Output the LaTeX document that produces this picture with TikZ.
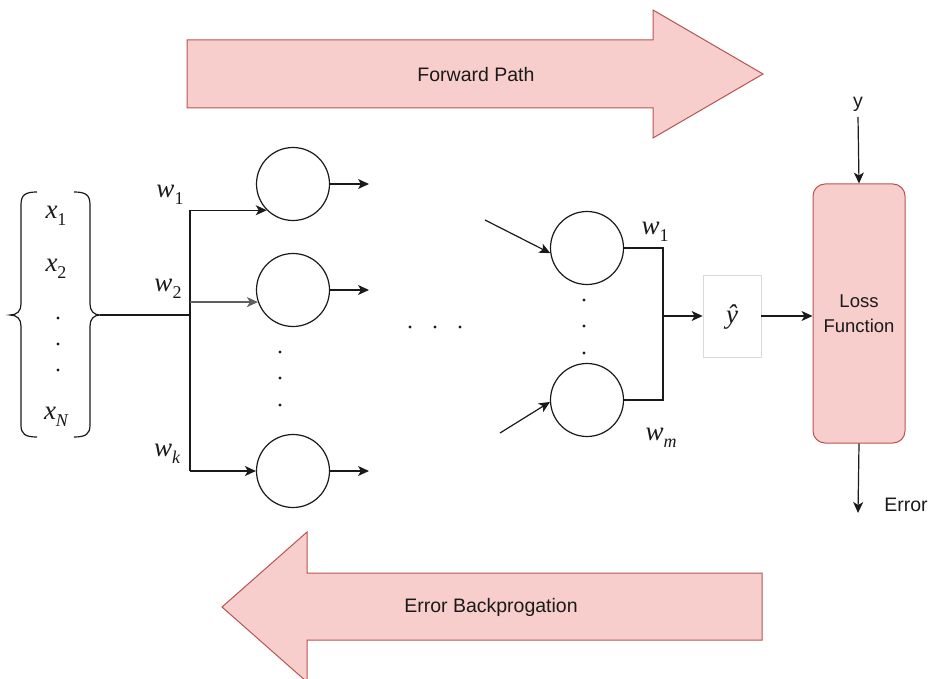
\documentclass[tikz,border=0pt]{standalone}
\usepackage{fontspec}
\setmainfont{Liberation Sans}
\newfontfamily\mathserif{Liberation Serif}
\usetikzlibrary{arrows.meta,calc}

\definecolor{pinkfill}{HTML}{F8CECC}
\definecolor{pinkline}{HTML}{B85450}
\definecolor{boxgray}{HTML}{D9D9D9}
\definecolor{ink}{HTML}{1A1A1A}

% italic serif variable with a lowered subscript
\newcommand{\sv}[2]{{\mathserif\fontsize{27}{27}\selectfont\itshape #1\raisebox{-0.28em}{\fontsize{18}{18}\selectfont\upshape #2}}}

\tikzset{
  wire/.style={line width=1.2pt, draw=ink},
  conn/.style={wire, -{Stealth[length=11pt,width=10pt,inset=3pt]}},
  neuron/.style={circle, draw=ink, line width=1.2pt, minimum size=73pt, inner sep=0pt},
  bigarrow/.style={fill=pinkfill, draw=pinkline, line width=1pt, line join=miter},
  sanslabel/.style={font=\fontsize{19.5}{24}\selectfont, text=ink, inner sep=0pt},
  varlabel/.style={text=ink, inner sep=0pt},
  dot/.style={circle, fill=ink, inner sep=0pt, minimum size=3.4pt},
}

\begin{document}
\begin{tikzpicture}[x=1pt, y=-1pt]
\useasboundingbox (0,0) rectangle (928,679);

% forward path arrow
\draw[bigarrow] (187,40) -- (653,40) -- (653,10) -- (763,74) -- (653,138)
  -- (653,108) -- (187,108) -- cycle;
\node[sanslabel] (fwd) at (476,75) {Forward Path};

% error backpropagation arrow
\draw[bigarrow] (762,573) -- (307,573) -- (307,532) -- (222,607) -- (307,682)
  -- (307,640) -- (762,640) -- cycle;
\node[sanslabel] (bwd) at (491,607) {Error Backprogation};

% input vector with braces
\draw[wire] (37,192) .. controls (25,192) and (21,195) .. (21,205) -- (21,304)
  .. controls (21,311) and (17,315) .. (10,315)
  .. controls (17,315) and (21,319) .. (21,326) -- (21,425)
  .. controls (21,434) and (25,437) .. (37,437);
\draw[wire] (74,192) .. controls (86,192) and (90,195) .. (90,205) -- (90,304)
  .. controls (90,311) and (94,315) .. (100,315)
  .. controls (94,315) and (90,319) .. (90,326) -- (90,425)
  .. controls (90,434) and (86,437) .. (74,437);
\coordinate (rb) at (100,315);
\node[varlabel] (x1) at (56,216) {\sv{x}{1}};
\node[varlabel] (x2) at (56,269) {\sv{x}{2}};
\node[dot] (xd1) at (58,318) {};
\node[dot] (xd2) at (58,344) {};
\node[dot] (xd3) at (58,370) {};
\node[varlabel] (xN) at (56,417) {\sv{x}{\itshape N}};

% first hidden layer
\node[neuron] (c1) at (293,184) {};
\node[neuron] (c2) at (293,290) {};
\node[neuron] (c3) at (293,471) {};
\node[dot] (cd1) at (280,352) {};
\node[dot] (cd2) at (280,378) {};
\node[dot] (cd3) at (280,405) {};

% trunk and weighted branches
\coordinate (tr) at (190,315);
\draw[wire] (rb) -- (tr);
\draw[wire] (c1.225 -| tr) -- (c3.west -| tr);
\draw[conn] (c1.225 -| tr) -- (c1.225);
\draw[conn, draw=ink!70] (c2.199 -| tr) -- (c2.199);
\draw[conn] (c3.west -| tr) -- (c3.west);
\node[varlabel] (w1) at (170,195) {\sv{w}{1}};
\node[varlabel] (w2) at (168,289) {\sv{w}{2}};
\node[varlabel] (wk) at (167,454) {\sv{w}{\itshape k}};

% outputs of the first layer
\coordinate (o1) at (369,184);
\coordinate (o2) at (369,290);
\coordinate (o3) at (369,471);
\draw[conn] (c1.east) -- (o1);
\draw[conn] (c2.east) -- (o2);
\draw[conn] (c3.east) -- (o3);

% ellipsis between layers
\node[dot] (md1) at (410,327) {};
\node[dot] (md2) at (435,327) {};
\node[dot] (md3) at (460,327) {};

% last layer
\node[neuron] (cA) at (587,248) {};
\node[neuron] (cB) at (587,400) {};
\node[dot] (rd1) at (584,300) {};
\node[dot] (rd2) at (584,326) {};
\node[dot] (rd3) at (584,353) {};
\coordinate (iA) at (485,220);
\coordinate (iB) at (500,433);
\draw[conn] (iA) -- (cA.188);
\draw[conn] (iB) -- (cB.183);

% combining the outputs
\coordinate (jA) at (663,248);
\coordinate (jB) at (663,400);
\coordinate (j) at (663,316);
\draw[wire] (cA.east) -- (jA) -- (jB) -- (cB.east);
\node[draw=boxgray, line width=0.8pt, minimum width=58pt, minimum height=82pt,
  inner sep=0pt] (yh) at (732,316) {};
\node[varlabel] (yhat) at (732,317) {{\mathserif\fontsize{27}{27}\selectfont\itshape ŷ}};
\draw[conn] (j) -- (yh.west);
\node[varlabel] (w1r) at (655,232) {\sv{w}{1}};
\node[varlabel] (wm) at (661,438) {\sv{w}{\itshape m}};

% loss function
\node[fill=pinkfill, draw=pinkline, line width=1pt, rounded corners=12pt,
  minimum width=92pt, minimum height=259pt, inner sep=0pt, align=center,
  font=\fontsize{18.5}{25}\selectfont, text=ink] (loss) at (859,313.5) {Loss\\Function};
\draw[conn] (yh.east) -- (yh.east -| loss.west);
\node[sanslabel] (y) at (858,104) {y};
\draw[conn] (858,117) -- (loss.north);
\coordinate (err) at (858,513);
\draw[conn] (loss.south) -- (err);
\node[sanslabel] (errl) at (906,505) {Error};
\end{tikzpicture}
\end{document}
